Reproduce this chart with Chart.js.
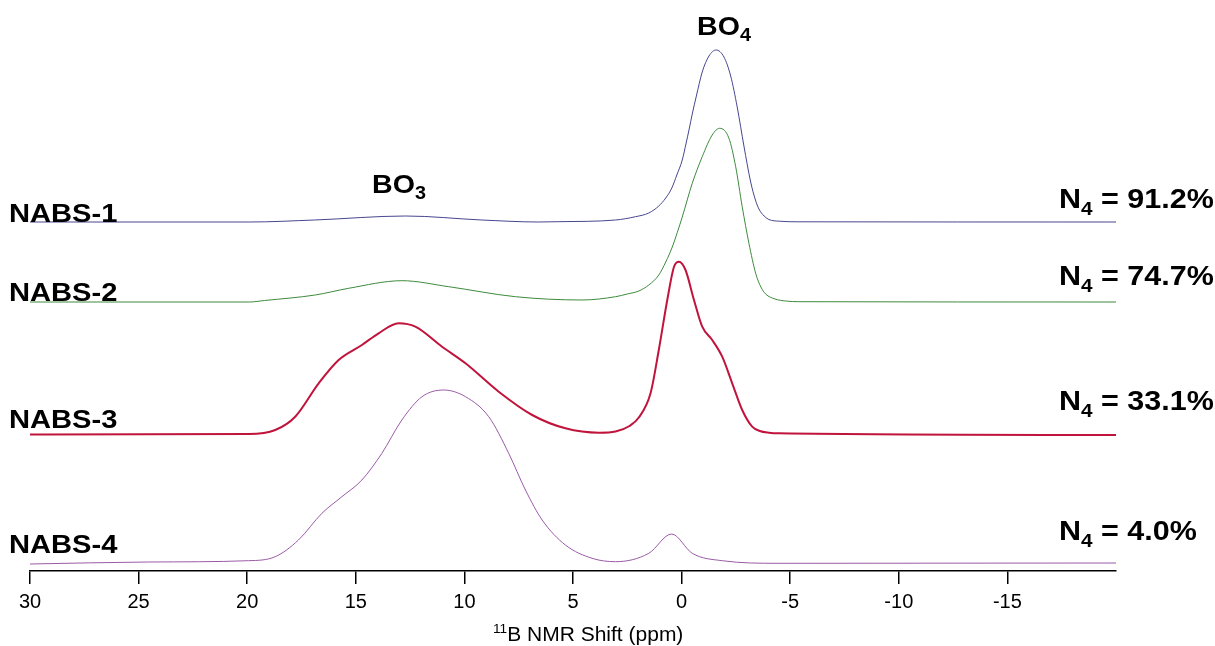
<!DOCTYPE html>
<html>
<head>
<meta charset="utf-8">
<script src="https://cdn.jsdelivr.net/npm/chart.js@4.4.1/dist/chart.umd.min.js"></script>
<style>
  html, body { margin: 0; padding: 0; background: #ffffff; }
  #wrap { width: 1215px; height: 646px; position: relative; }
</style>
</head>
<body>
<div id="wrap"><canvas id="c" width="1215" height="646"></canvas></div>
<script>
// ---- Data (chemical shift in ppm, intensity in arbitrary units above each trace baseline) ----
const sampleNames = ['NABS-1', 'NABS-2', 'NABS-3', 'NABS-4'];
const n4Labels = ['91.2%', '74.7%', '33.1%', '4.0%'];
const xTickValues = [30, 25, 20, 15, 10, 5, 0, -5, -10, -15];
const traceOffsets = [349, 269, 136, 8];

const shiftNABS1 = [30, 19.9, 16.9, 12.7, 9.2, 6.6, 5.65, 3.04, 2.12, 1.51, 1.05, 0.73, 0.45, 0.22, -0.03, -0.21, -0.35, -0.49, -0.68, -0.95, -1.26, -1.59, -1.95, -2.26, -2.56, -2.87, -3.18, -3.4, -3.56, -3.8, -4.02, -4.5, -5.4, -20];
const intNABS1   = [0, 0, 2, 6, 2, 0, 0.3, 2, 5.3, 9, 16, 24, 34, 47, 62, 79, 93, 108, 126, 150, 166, 172, 165, 146, 115, 76, 40, 22, 13, 6, 2.5, 0.8, 0.2, 0];

const shiftNABS2 = [30, 19.9, 19.2, 16.87, 15.33, 12.88, 10.72, 7.65, 4.59, 3.04, 2.5, 1.97, 1.51, 1.05, 0.73, 0.43, -0.03, -0.49, -0.95, -1.41, -1.75, -2.18, -2.49, -2.79, -3.1, -3.41, -3.65, -3.87, -4.3, -4.79, -5.4, -20];
const intNABS2   = [0, 0, 1.5, 7, 13.7, 21.3, 15.3, 5.3, 2, 5.3, 8, 11, 17, 27, 40, 55, 85, 118.7, 145.3, 167, 173.7, 163.7, 135.3, 95.3, 58.7, 28.7, 15, 8, 3, 1, 0.3, 0];

const shiftNABS3 = [30, 19.93, 18.71, 17.79, 16.71, 15.79, 14.72, 13.95, 13.03, 12.26, 11.03, 9.95, 8.42, 6.88, 5.35, 3.81, 3.04, 2.4, 1.97, 1.43, 1.05, 0.66, 0.35, 0.12, -0.18, -0.57, -0.95, -1.41, -1.87, -2.33, -2.79, -3.25, -3.6, -4.02, -4.48, -20];
const intNABS3   = [0.5, 1, 5, 18.3, 51.7, 75, 90, 101.7, 111.7, 108.3, 88.3, 71.7, 43.3, 20, 6.7, 2.3, 3.5, 9, 17.5, 41.7, 85, 135, 168.3, 173.3, 165, 135, 108.3, 95, 78.3, 51.7, 25, 8.3, 4, 2.3, 1.7, 0];

const shiftNABS4 = [30, 24.54, 19.93, 18.71, 17.64, 16.56, 15.64, 14.72, 13.8, 12.88, 11.95, 10.95, 9.95, 8.88, 7.96, 7.19, 6.42, 5.35, 4.12, 3.04, 1.51, 0.46, -0.49, -1.87, -4.48, -20];
const intNABS4   = [-1, 1, 2.3, 6.3, 23, 49.7, 66.3, 83, 109.7, 143, 166.3, 173, 166.3, 146.3, 109.7, 73, 43, 18, 4.7, 1.3, 9.7, 29, 9.7, 2.3, -0.3, 0];

const shifts = [shiftNABS1, shiftNABS2, shiftNABS3, shiftNABS4];
const intensities = [intNABS1, intNABS2, intNABS3, intNABS4];
const colors = ['#46468F', '#3D8A3D', '#C0143C', '#9A5AA6'];
const widths = [1, 1, 2, 1];

const datasets = sampleNames.map((name, i) => ({
  label: name,
  data: shifts[i].map((s, k) => ({ x: s, y: intensities[i][k] + traceOffsets[i] })),
  borderColor: colors[i],
  borderWidth: widths[i],
  pointRadius: 0,
  fill: false,
  cubicInterpolationMode: 'monotone'
}));

const FONT = "'Liberation Sans', Arial, Helvetica, sans-serif";

function drawParts(ctx, x, y, parts, sx) {
  ctx.save();
  ctx.translate(x, y);
  ctx.scale(sx, 1);
  ctx.fillStyle = '#000';
  ctx.textBaseline = 'alphabetic';
  ctx.textAlign = 'left';
  let cx = 0;
  for (const p of parts) {
    ctx.font = p.font;
    ctx.fillText(p.text, cx, p.dy || 0);
    cx += ctx.measureText(p.text).width;
  }
  ctx.restore();
}

const labelPlugin = {
  id: 'labels',
  afterDraw(chart) {
    const ctx = chart.ctx;
    const big = 'bold 26px ' + FONT;
    const nameY = [221.7, 300.7, 428, 553];
    sampleNames.forEach((n, i) => drawParts(ctx, 9, nameY[i], [{ text: n, font: big }], 1.12));
    drawParts(ctx, 372, 193.3, [{ text: 'BO', font: big }, { text: '3', font: 'bold 18px ' + FONT, dy: 6 }], 1.1);
    drawParts(ctx, 697, 35, [{ text: 'BO', font: big }, { text: '4', font: 'bold 18px ' + FONT, dy: 6 }], 1.1);
    const nY = [207.7, 285, 410, 540];
    const nf = 'bold 28px ' + FONT;
    n4Labels.forEach((t, i) => drawParts(ctx, 1059, nY[i], [
      { text: 'N', font: nf },
      { text: '4', font: 'bold 19px ' + FONT, dy: 7 },
      { text: ' = ' + t, font: nf }
    ], 1.09));
    drawParts(ctx, 493, 641, [
      { text: '11', font: '13px ' + FONT, dy: -8 },
      { text: 'B NMR Shift (ppm)', font: '20px ' + FONT }
    ], 1.05);
  }
};

new Chart(document.getElementById('c'), {
  type: 'line',
  data: { datasets },
  options: {
    responsive: false,
    animation: false,
    devicePixelRatio: 1,
    layout: { padding: { left: 30, right: 99, top: 0, bottom: 0 } },
    plugins: { legend: { display: false }, tooltip: { enabled: false } },
    scales: {
      x: {
        type: 'linear',
        reverse: true,
        min: -20,
        max: 30,
        afterBuildTicks(scale) {
          scale.ticks = xTickValues.map(v => ({ value: v }));
        },
        afterFit(scale) { scale.height = 75; },
        border: { display: true, color: '#000', width: 1.5 },
        grid: { display: true, drawOnChartArea: false, drawTicks: true, tickLength: 13, color: '#000', lineWidth: 1.5 },
        ticks: { color: '#000', padding: 6, maxRotation: 0, autoSkip: false, font: { size: 20, family: FONT } }
      },
      y: {
        display: false,
        min: 0,
        max: 571
      }
    }
  },
  plugins: [labelPlugin]
});
</script>
</body>
</html>
